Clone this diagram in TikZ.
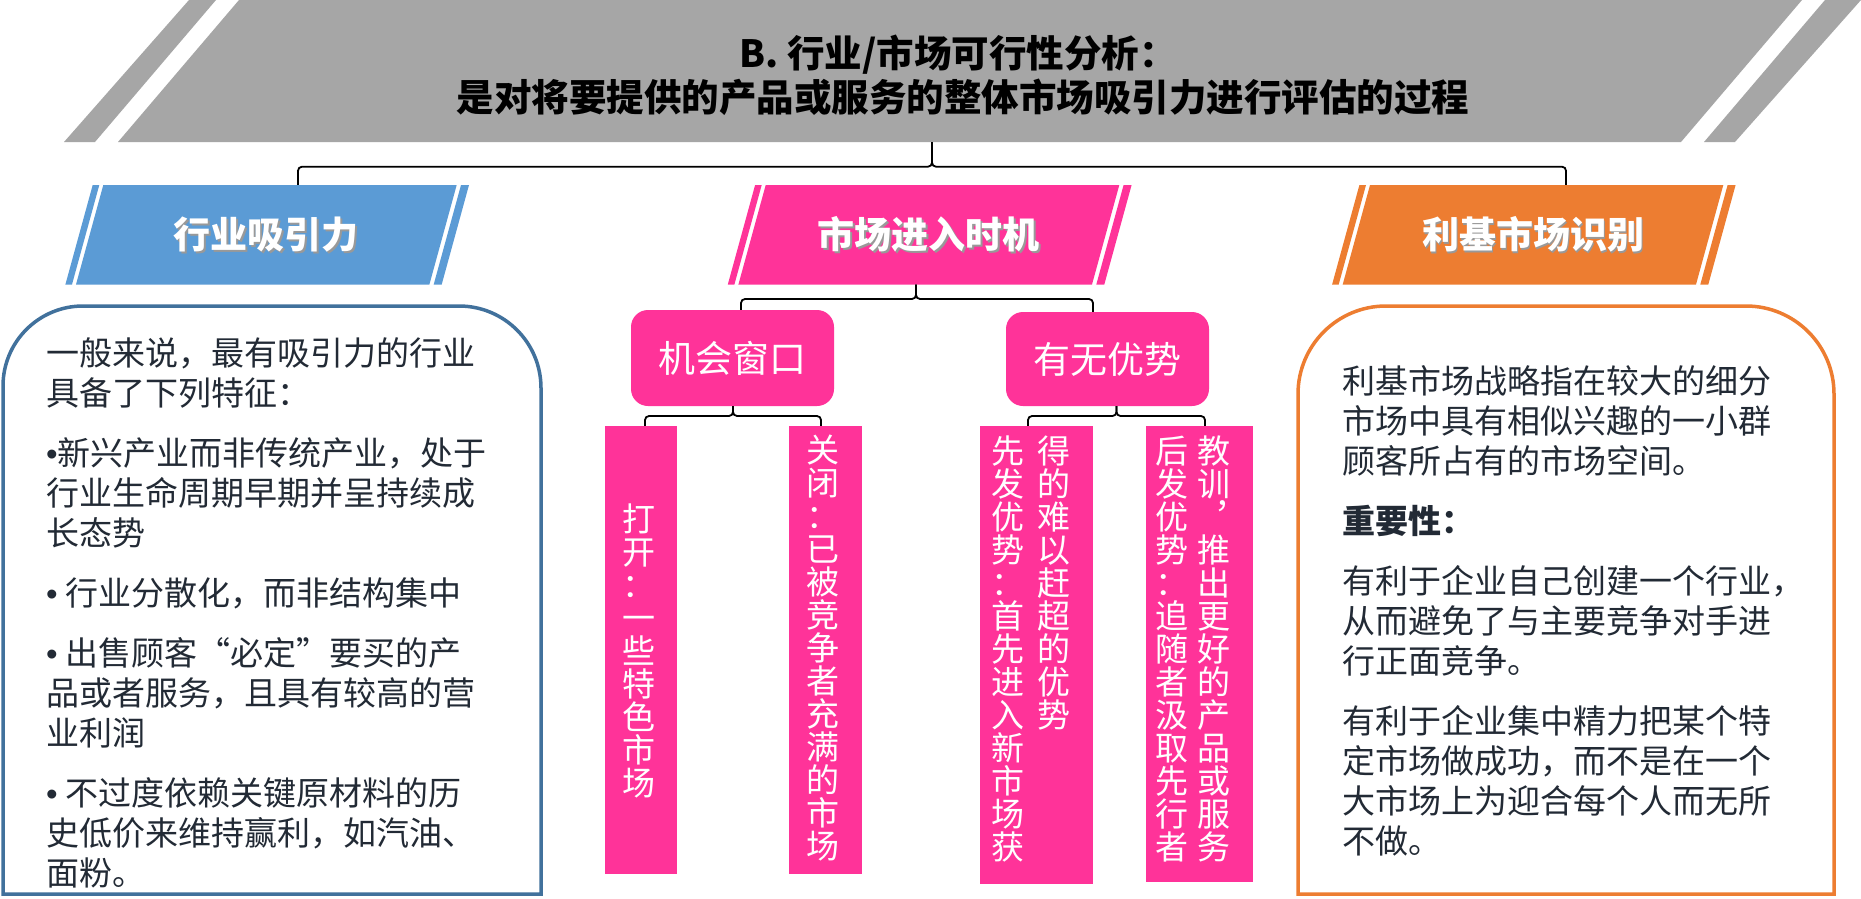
\documentclass[tikz,border=0pt]{standalone}
\usepackage{fontspec}
\setmainfont{Noto Sans CJK SC}
\newfontfamily\bulletfont{Liberation Sans}
\newcommand\bul{{\bulletfont •}}
\definecolor{bannergray}{HTML}{A6A6A6}
\definecolor{hblue}{HTML}{5B9BD5}
\definecolor{hpink}{HTML}{FF3399}
\definecolor{horange}{HTML}{ED7D31}
\definecolor{boxblue}{HTML}{41719C}
\definecolor{bodytext}{HTML}{222A35}
\tikzset{
  conn/.style={draw=black, line width=1.8pt, rounded corners=4pt},
  headtext/.style={text=white, font=\fontsize{37}{40}\selectfont\bfseries, minimum width=353pt, minimum height=99.5pt, inner sep=0pt},
  headshadow/.style={text=black!40, font=\fontsize{37}{40}\selectfont\bfseries, inner sep=0pt},
  midbox/.style={fill=hpink, rounded corners=17pt, minimum width=203pt, minimum height=95pt, text=white, font=\fontsize{37}{40}\selectfont, inner sep=0pt},
  leafbox/.style={fill=hpink, inner sep=0pt},
  vcol/.style={text=white, font=\fontsize{33}{33}\selectfont, align=center, inner sep=0pt},
  bodytxt/.style={text=bodytext, font=\fontsize{33}{40}\selectfont, inner sep=0pt, anchor=base west},
  titletxt/.style={text=black, font=\fontsize{37.5}{44}\selectfont\bfseries, inner sep=0pt, anchor=base},
  bigbox/.style={line width=3.5pt, fill=white},
}
\newcommand\headpar[3]{%
  \fill[#1] (#2,185) -- (#3,185) -- ({#3-27.3},284.5) -- ({#2-27.3},284.5) -- cycle;
  \fill[#1] ({#2-10.6},185) -- ({#2-4},185) -- ({#2-31.3},284.5) -- ({#2-37.9},284.5) -- cycle;
  \fill[#1] ({#3+4.3},185) -- ({#3+12.3},185) -- ({#3-15},284.5) -- ({#3-23},284.5) -- cycle;
}
\begin{document}
\begin{tikzpicture}[x=1pt,y=-1pt]
\fill[white] (0,0) rectangle (1861,899);
\useasboundingbox (0,0) rectangle (1861,899);

% banner
\fill[bannergray] (239,0) -- (1802,0) -- (1681,142) -- (118,142) -- cycle;
\fill[bannergray] (189,0) -- (216,0) -- (95,142) -- (64,142) -- cycle;
\fill[bannergray] (1825,0) -- (1861,0) -- (1735,142) -- (1704,142) -- cycle;
\node[titletxt] (title1) at (958,67) {B. 行业/市场可行性分析：};
\node[titletxt] (title2) at (963,111) {是对将要提供的产品或服务的整体市场吸引力进行评估的过程};
\coordinate (banB) at (932,142);
\coordinate (bus0) at (932,166.7);

% headings
\headpar{hblue}{103.3}{456.7}
\headpar{hpink}{765.7}{1119.3}
\headpar{horange}{1370}{1723.3}
\node[headshadow] (hAs) at (268.1,236.2) {行业吸引力};
\node[headtext] (hA) at (266.4,234.75) {行业吸引力};
\node[headshadow] (hBs) at (930.3,236.2) {市场进入时机};
\node[headtext] (hB) at (928.8,234.75) {市场进入时机};
\node[headshadow] (hCs) at (1534.5,236.2) {利基市场识别};
\node[headtext] (hC) at (1533,234.75) {利基市场识别};

\draw[conn] (banB) -- (bus0) -| ([xshift=31.6pt]hA.north);
\draw[conn] (banB) -- (bus0) -| ([xshift=33pt]hC.north);

% middle level
\node[midbox, minimum height=96pt] (mw) at (732.5,358) {机会窗口};
\node[midbox, minimum height=94pt] (mv) at (1107.5,359) {有无优势};
\coordinate (busB) at (916,299);
\draw[conn] ([xshift=-12.8pt]hB.south) -- (busB) -| ([xshift=8.5pt]mw.north);
\draw[conn] ([xshift=-12.8pt]hB.south) -- (busB) -| ([xshift=-14.5pt]mv.north);

% leaves
\node[leafbox, minimum width=72pt, minimum height=448pt] (l1) at (641,650) {};
\node[leafbox, minimum width=73pt, minimum height=448pt] (l2) at (825.5,650) {};
\node[leafbox, minimum width=113pt, minimum height=458pt] (l3) at (1036.5,655) {};
\node[leafbox, minimum width=107pt, minimum height=456pt] (l4) at (1199.5,654) {};

\coordinate (busW) at (733,416);
\coordinate (busV) at (1116.5,416);
\draw[conn] (mw.south) ++(0.5,0) coordinate (mwS) -- (busW) -| ([xshift=4pt]l1.north);
\draw[conn] (mwS) -- (busW) -| ([xshift=-4.5pt]l2.north);
\draw[conn] ([xshift=9pt]mv.south) -- (busV) -| ([xshift=-8.5pt]l3.north);
\draw[conn] ([xshift=9pt]mv.south) -- (busV) -| ([xshift=5.5pt]l4.north);

\node[vcol] (t1) at (639,651) {打\\开\\：\\一\\些\\特\\色\\市\\场};
\node[vcol] (t2) at (823.3,648) {关\\闭\\：\\已\\被\\竞\\争\\者\\充\\满\\的\\市\\场};
\node[vcol, anchor=north] (t3a) at (1007.5,436) {先\\发\\优\\势\\：\\首\\先\\进\\入\\新\\市\\场\\获};
\node[vcol, anchor=north] (t3b) at (1054,436) {得\\的\\难\\以\\赶\\超\\的\\优\\势};
\node[vcol, anchor=north] (t4a) at (1171.7,436) {后\\发\\优\\势\\：\\追\\随\\者\\汲\\取\\先\\行\\者};
\node[vcol, anchor=north] (t4b) at (1214,436) {教\\训\\︐\\推\\出\\更\\好\\的\\产\\品\\或\\服\\务};

% big boxes
\draw[bigbox, draw=boxblue] (3,894) -- (3,386) .. controls (3,341.8) and (38.8,306) .. (83,306)
  -- (459,306) .. controls (504.3,306) and (541,342.7) .. (541,388) -- (541,894) -- cycle;
\draw[bigbox, draw=horange] (1298,894) -- (1298,394) .. controls (1298,345.4) and (1337.4,306) .. (1386,306)
  -- (1746,306) .. controls (1794.6,306) and (1834,345.4) .. (1834,394) -- (1834,894) -- cycle;

\node[bodytxt] (lefttext) at (46,365.5) {\parbox[t]{520pt}{一般来说，最有吸引力的行业\\具备了下列特征：\\[20pt]\bul 新兴产业而非传统产业，处于\\行业生命周期早期并呈持续成\\长态势\\[20pt]\bul\ 行业分散化，而非结构集中\\[20pt]\bul\ 出售顾客“必定”要买的产\\品或者服务，且具有较高的营\\业利润\\[20pt]\bul\ 不过度依赖关键原材料的历\\史低价来维持赢利，如汽油、\\面粉。}};

\node[bodytxt] (righttext) at (1342,393.2) {\parbox[t]{500pt}{利基市场战略指在较大的细分\\市场中具有相似兴趣的一小群\\顾客所占有的市场空间。\\[20pt]\textbf{重要性：}\\[20pt]有利于企业自己创建一个行业，\\从而避免了与主要竞争对手进\\行正面竞争。\\[20pt]有利于企业集中精力把某个特\\定市场做成功，而不是在一个\\大市场上为迎合每个人而无所\\不做。}};
\end{tikzpicture}
\end{document}
